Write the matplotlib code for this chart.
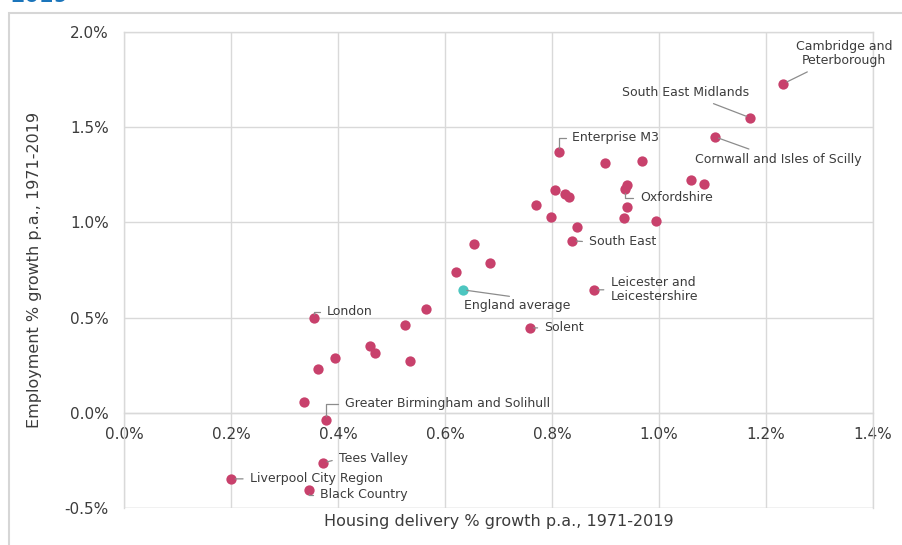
import numpy as np
import matplotlib
matplotlib.use("Agg")
import matplotlib.pyplot as plt
from matplotlib.patches import Rectangle
from matplotlib.ticker import FuncFormatter

plt.rcParams['font.family'] = ['DejaVu Sans']

# LEP data: housing delivery growth vs employment growth (% p.a., 1971-2019)
housing = [1.232, 1.171, 1.104, 0.814, 0.900, 0.969, 1.059, 1.085, 0.941, 0.937,
           0.805, 0.824, 0.831, 0.771, 0.941, 0.799, 0.934, 0.995, 0.846, 0.838,
           0.654, 0.685, 0.620, 0.878, 0.564, 0.355, 0.525, 0.758, 0.460, 0.469,
           0.394, 0.534, 0.362, 0.336, 0.377, 0.372, 0.200, 0.345]
employment = [1.728, 1.549, 1.450, 1.371, 1.313, 1.324, 1.224, 1.203, 1.197, 1.176,
              1.171, 1.150, 1.134, 1.092, 1.082, 1.029, 1.024, 1.008, 0.977, 0.903,
              0.888, 0.788, 0.741, 0.646, 0.546, 0.499, 0.462, 0.446, 0.352, 0.315,
              0.289, 0.273, 0.231, 0.058, -0.037, -0.263, -0.347, -0.404]
names = ["Cambridge and\nPeterborough", "South East Midlands", "Cornwall and Isles of Scilly",
         "Enterprise M3", "", "", "", "", "", "Oxfordshire",
         "", "", "", "", "", "", "", "", "", "South East",
         "", "", "", "Leicester and\nLeicestershire", "", "London", "", "Solent", "", "",
         "", "", "", "", "Greater Birmingham and Solihull", "Tees Valley",
         "Liverpool City Region", "Black Country"]
england_housing = 0.633
england_employment = 0.646

x_ticks = [0.0, 0.2, 0.4, 0.6, 0.8, 1.0, 1.2, 1.4]
y_ticks = [-0.5, 0.0, 0.5, 1.0, 1.5, 2.0]

# label placement: offset in pixels, alignment, leader style
label_style = {
    "Cambridge and\nPeterborough": ((61, 30), 'center', None),
    "South East Midlands": ((-65, 25), 'center', None),
    "Cornwall and Isles of Scilly": ((64, -23), 'center', None),
    "Enterprise M3": ((13, 14), 'left', 'elbow'),
    "Oxfordshire": ((15, -9), 'left', 'elbow'),
    "South East": ((17, -1), 'left', None),
    "Leicester and\nLeicestershire": ((17, 0), 'left', None),
    "Solent": ((15, 0), 'left', None),
    "London": ((13, 6), 'left', 'elbow'),
    "Greater Birmingham and Solihull": ((19, 16), 'left', 'elbow'),
    "Tees Valley": ((16, 4), 'left', None),
    "Liverpool City Region": ((19, 0), 'left', None),
    "Black Country": ((11, -5), 'left', 'elbow'),
}

pink = '#c8416c'
teal = '#4dc6c0'
grid_c = '#d9d9d9'
text_c = '#3c3c3c'
lead_c = '#8c8c8c'

fig = plt.figure(figsize=(9.02, 5.45), dpi=100)
ax = fig.add_axes([124/902, 1-508/545, 749/902, 476/545])

ax.scatter(housing, employment, s=55, color=pink, zorder=3, linewidths=0)
ax.scatter([england_housing], [england_employment], s=55, color=teal, zorder=3, linewidths=0)

for hx, ey, nm in zip(housing, employment, names):
    if not nm:
        continue
    off, ha, lead = label_style[nm]
    if lead == 'elbow':
        cs = 'angle,angleA=0,angleB=90,rad=0'
        rp = (0, 0.5)
    else:
        cs = 'arc3'
        rp = (0.5, 0.5) if ha == 'center' else (0, 0.5)
    ax.annotate(nm, (hx, ey), xytext=off, textcoords='offset pixels',
                ha=ha, va='center', fontsize=9, color=text_c,
                linespacing=1.1, annotation_clip=False,
                arrowprops=dict(arrowstyle='-', color=lead_c, lw=0.9,
                                shrinkA=3, shrinkB=3, connectionstyle=cs,
                                relpos=rp))

ax.annotate("England average", (england_housing, england_employment),
            xytext=(1, -16), textcoords='offset pixels', ha='left', va='center',
            fontsize=9, color=text_c,
            arrowprops=dict(arrowstyle='-', color=lead_c, lw=0.9,
                            shrinkA=1, shrinkB=3, relpos=(0.63, 1.0)))

ax.set_xlim(0, 1.4)
ax.set_ylim(-0.5, 2.0)
ax.set_xticks(x_ticks)
ax.set_yticks(y_ticks)
ax.xaxis.set_major_formatter(FuncFormatter(lambda v, p: f"{v:.1f}%"))
ax.yaxis.set_major_formatter(FuncFormatter(lambda v, p: f"{v:.1f}%"))
ax.grid(True, color=grid_c, lw=1.0, zorder=0)
ax.set_axisbelow(True)
for s in ax.spines.values():
    s.set_color(grid_c)
    s.set_linewidth(1.0)
ax.spines['bottom'].set_position(('data', 0))
ax.tick_params(length=0, labelsize=11, colors=text_c)
ax.tick_params(axis='y', pad=11)
ax.tick_params(axis='x', pad=10)
# bottom gridline at -0.5
ax.axhline(-0.5, color=grid_c, lw=1.0, zorder=0)

ax.set_xlabel("Housing delivery % growth p.a., 1971-2019", fontsize=11.5, color=text_c)
ax.set_ylabel("Employment % growth p.a., 1971-2019", fontsize=11.5, color=text_c)
ax.xaxis.set_label_coords(0.5, -0.013)
ax.yaxis.set_label_coords(-0.109, 0.5)

# outer panel frame and clipped heading
fig.patches.append(Rectangle((9/902, -0.05), 1.0, 1.05 - 13/545, transform=fig.transFigure,
                             fill=False, edgecolor='#d6d6d6', lw=1.5))
fig.text(10/902, 1 - 2/545, "2019", fontsize=15, fontweight='bold', color='#1b75bb',
         ha='left', va='baseline')

fig.savefig("out.png", dpi=100)
